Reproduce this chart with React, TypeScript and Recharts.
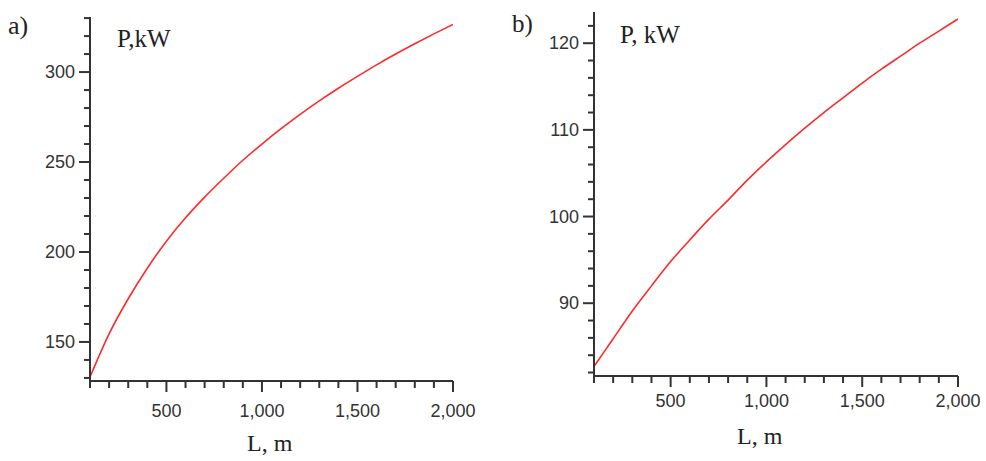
import React from 'react';
import { LineChart, Line, XAxis, YAxis } from 'recharts';

// line length L, m
const lengths = [100, 200, 300, 400, 500, 600, 700, 800, 900, 1000, 1100, 1200, 1300, 1400, 1500, 1600, 1700, 1800, 1900, 2000];
// power P, kW  (panel a)
const powerA = [130.5, 154.5, 174, 191, 206, 219, 230.5, 241, 251, 260, 268.5, 276.5, 284, 291, 297.6, 304, 310, 315.7, 321.2, 326.5];
// power P, kW  (panel b)
const powerB = [82.7, 85.9, 89.1, 92.0, 94.8, 97.3, 99.7, 101.9, 104.2, 106.3, 108.3, 110.2, 112.0, 113.7, 115.4, 117.0, 118.5, 120.0, 121.4, 122.8];

const xTicks = lengths;
const xMajor = [500, 1000, 1500, 2000];
const yTicksA = [130, 140, 150, 160, 170, 180, 190, 200, 210, 220, 230, 240, 250, 260, 270, 280, 290, 300, 310, 320, 330];
const yMajorA = [150, 200, 250, 300];
const yTicksB = [82, 84, 86, 88, 90, 92, 94, 96, 98, 100, 102, 104, 106, 108, 110, 112, 114, 116, 118, 120, 122];
const yMajorB = [90, 100, 110, 120];

const dataA = lengths.map((l, i) => ({ l, p: powerA[i] }));
const dataB = lengths.map((l, i) => ({ l, p: powerB[i] }));

const AXIS = '#333';
const tickFont = '"Liberation Sans", Arial, sans-serif';
const serif = '"Liberation Serif", "Times New Roman", serif';

const fmt = (v: number) => v.toLocaleString('en-US');

function makeXTick(labelDy: number) {
  return (props: any) => {
    const { x, y, payload } = props;
    const major = xMajor.includes(payload.value);
    return (
      <g>
        <line x1={x} y1={y} x2={x} y2={y + (major ? 11 : 7)} stroke={AXIS} strokeWidth={2} />
        {major && (
          <text x={x} y={y + labelDy} textAnchor="middle" fontSize={18} fontFamily={tickFont} fill="#333">
            {fmt(payload.value)}
          </text>
        )}
      </g>
    );
  };
}

function makeYTick(majors: number[]) {
  return (props: any) => {
    const { x, y, payload } = props;
    const major = majors.includes(payload.value);
    return (
      <g>
        <line x1={x} y1={y} x2={x - (major ? 11 : 6)} y2={y} stroke={AXIS} strokeWidth={2} />
        {major && (
          <text x={x - 15} y={y + 6} textAnchor="end" fontSize={18} fontFamily={tickFont} fill="#333">
            {payload.value}
          </text>
        )}
      </g>
    );
  };
}

const txt = (left: number, top: number, size: number, s: string) => (
  <div style={{ position: 'absolute', left, top, fontSize: size, lineHeight: 1, fontFamily: serif, color: '#222', whiteSpace: 'nowrap' }}>
    {s}
  </div>
);

export default function App() {
  return (
    <div style={{ position: 'absolute', left: 0, top: 0, width: 986, height: 461, background: '#fff', overflow: 'hidden' }}>
      <div style={{ position: 'absolute', left: 0, top: 0 }}>
        <LineChart width={495} height={461} data={dataA} margin={{ top: 17, right: 42, left: 0, bottom: 0 }}>
          <XAxis
            dataKey="l"
            type="number"
            domain={[100, 2000]}
            allowDataOverflow
            ticks={xTicks}
            interval={0}
            height={80}
            tickSize={0}
            tickMargin={0}
            tickLine={false}
            axisLine={{ stroke: AXIS, strokeWidth: 2 }}
            tick={makeXTick(36)}
          />
          <YAxis
            type="number"
            domain={[128.3, 330.6]}
            allowDataOverflow
            ticks={yTicksA}
            interval={0}
            width={90}
            tickSize={0}
            tickMargin={0}
            tickLine={false}
            axisLine={{ stroke: AXIS, strokeWidth: 2 }}
            tick={makeYTick(yMajorA)}
          />
          <Line type="monotone" dataKey="p" stroke="#ff2a2a" strokeWidth={1.6} dot={false} isAnimationActive={false} />
        </LineChart>
      </div>
      <div style={{ position: 'absolute', left: 500, top: 0 }}>
        <LineChart width={486} height={461} data={dataB} margin={{ top: 12, right: 28, left: 0, bottom: 0 }}>
          <XAxis
            dataKey="l"
            type="number"
            domain={[100, 2000]}
            allowDataOverflow
            ticks={xTicks}
            interval={0}
            height={85}
            tickSize={0}
            tickMargin={0}
            tickLine={false}
            axisLine={{ stroke: AXIS, strokeWidth: 2 }}
            tick={makeXTick(31)}
          />
          <YAxis
            type="number"
            domain={[81.6, 123.6]}
            allowDataOverflow
            ticks={yTicksB}
            interval={0}
            width={94}
            tickSize={0}
            tickMargin={0}
            tickLine={false}
            axisLine={{ stroke: AXIS, strokeWidth: 2 }}
            tick={makeYTick(yMajorB)}
          />
          <Line type="monotone" dataKey="p" stroke="#ff2a2a" strokeWidth={1.6} dot={false} isAnimationActive={false} />
        </LineChart>
      </div>
      {txt(8, 13, 26, 'a)')}
      {txt(512, 11, 25, 'b)')}
      {txt(117, 26, 25, 'P,kW')}
      {txt(620, 22, 25, 'P, kW')}
      {txt(247, 431, 24, 'L, m')}
      {txt(737, 424, 24, 'L, m')}
    </div>
  );
}
